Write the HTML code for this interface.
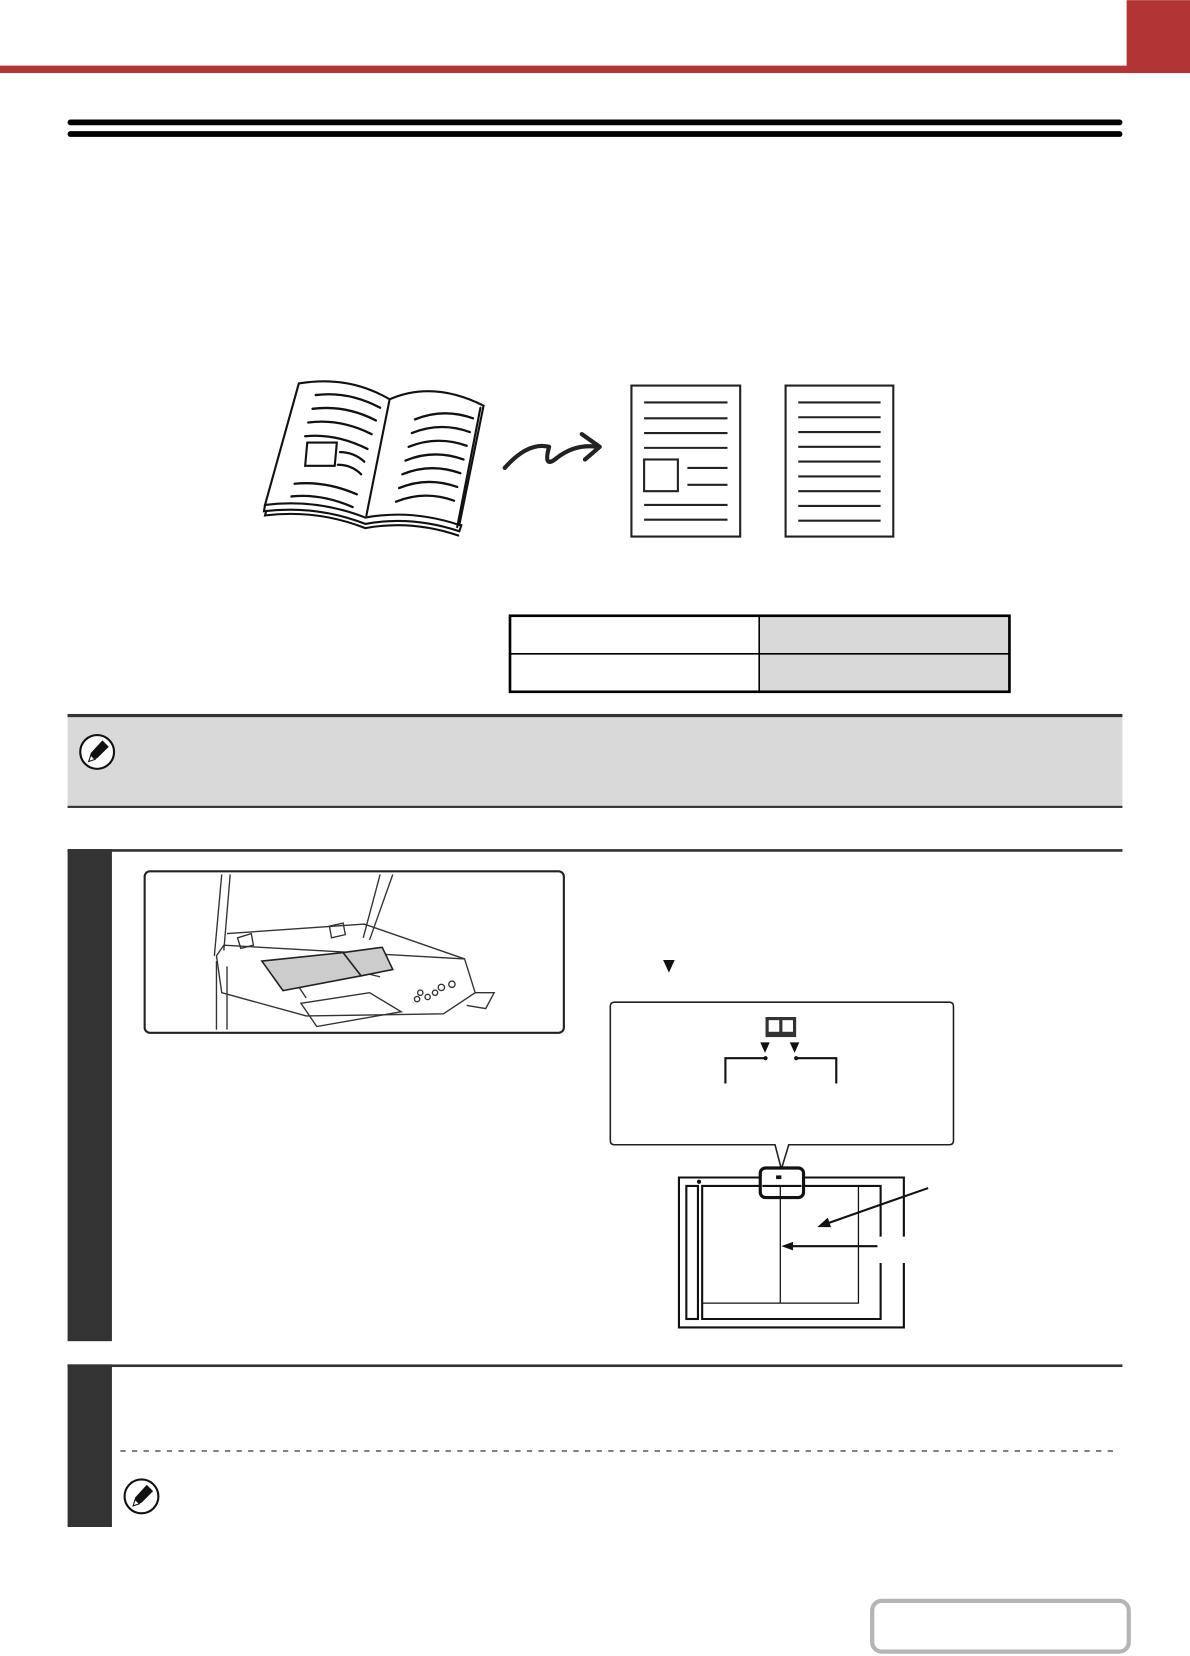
<!DOCTYPE html>
<html><head><meta charset="utf-8">
<style>
html,body{margin:0;padding:0;background:#fff;width:1190px;height:1656px;overflow:hidden}
svg{display:block}
</style></head>
<body>
<svg width="1190" height="1656" viewBox="0 0 1127 1568" xmlns="http://www.w3.org/2000/svg">
<!-- header -->
<rect x="0" y="62" width="1127" height="7" fill="#b33434"/>
<rect x="1067" y="0" width="60" height="69" fill="#b33434"/>
<rect x="64" y="113" width="999" height="5.5" rx="2.7" fill="#000"/>
<rect x="64" y="124" width="999" height="5.5" rx="2.7" fill="#000"/>

<!-- book -->
<g fill="none" stroke="#111" stroke-width="2" stroke-linecap="round">
<path d="M283 363 Q330 355 369 378 Q410 360 458 384 L435 497 Q390 482 346 490 Q300 472 251 478 Z" fill="#fff"/>
<path d="M369 378 L347 488"/>
<path d="M251 478 L250 484 Q300 478 346 496 Q390 488 435 503 L437 497"/>
<path d="M252 484 L251 488 Q300 482 346 500 Q390 492 434 507"/>
<path d="M455 386 L433 499"/>
<g stroke-width="2.2">
<path d="M299 374 Q330 370 360 386"/><path d="M296 387 Q327 383 356 398"/><path d="M292 400 Q322 396 352 411"/><path d="M289 413 Q318 410 348 425"/>
<path d="M322 428 Q335 428 345 437"/><path d="M320 440 Q333 440 342 449"/>
<path d="M279 458 Q308 455 338 468"/><path d="M276 470 Q304 467 334 480"/>
<path d="M393 397 Q420 386 448 396"/><path d="M390 410 Q417 399 445 409"/><path d="M387 423 Q414 412 442 422"/><path d="M384 436 Q411 425 439 435"/><path d="M381 449 Q408 438 436 448"/><path d="M378 462 Q405 451 433 461"/><path d="M375 475 Q402 464 430 474"/>
</g>
<path d="M291 419 L319 419 L317 441 L289 441 Z" stroke-width="2"/>
</g>
<!-- arrow -->
<g fill="none" stroke="#222" stroke-width="4" stroke-linecap="round" stroke-linejoin="round">
<path d="M478 443 Q500 418 520 423 Q514 445 528 433 Q545 420 566 423"/>
<path d="M551 411 L568 423 L554 435"/>
</g>
<!-- pages -->
<g fill="#fff" stroke="#222" stroke-width="2">
<rect x="598" y="365" width="103" height="143"/>
<rect x="744" y="365" width="102" height="143"/>
<rect x="610" y="435" width="32" height="30"/>
</g>
<g stroke="#222" stroke-width="2">
<line x1="610" y1="381" x2="689" y2="381"/><line x1="610" y1="396" x2="689" y2="396"/><line x1="610" y1="410" x2="689" y2="410"/><line x1="610" y1="424" x2="689" y2="424"/>
<line x1="651" y1="443" x2="689" y2="443"/><line x1="651" y1="459" x2="689" y2="459"/>
<line x1="610" y1="478" x2="689" y2="478"/><line x1="610" y1="492" x2="689" y2="492"/>
<line x1="756" y1="381" x2="834" y2="381"/><line x1="756" y1="395" x2="834" y2="395"/><line x1="756" y1="409" x2="834" y2="409"/><line x1="756" y1="423" x2="834" y2="423"/><line x1="756" y1="437" x2="834" y2="437"/><line x1="756" y1="451" x2="834" y2="451"/><line x1="756" y1="465" x2="834" y2="465"/><line x1="756" y1="479" x2="834" y2="479"/><line x1="756" y1="493" x2="834" y2="493"/>
</g>

<!-- table -->
<rect x="719" y="583" width="237" height="72" fill="#d9d9d9"/>
<rect x="483" y="583" width="473" height="72" fill="none" stroke="#000" stroke-width="2.5"/>
<line x1="483" y1="619" x2="956" y2="619" stroke="#000" stroke-width="1.5"/>
<line x1="719" y1="583" x2="719" y2="655" stroke="#000" stroke-width="1.5"/>

<!-- note box -->
<rect x="64" y="677" width="999" height="88" fill="#d9d9d9"/>
<rect x="64" y="676" width="999" height="3" fill="#333"/>
<rect x="64" y="763" width="999" height="2" fill="#333"/>
<g id="pen">
<circle cx="92" cy="712" r="16" fill="#fff" stroke="#111" stroke-width="2"/>
<path d="M84 721 L86 713 L97 701 L103 707 L92 718 Z" fill="#111"/>
<path d="M84 721 L86 715 L90 719 Z" fill="#fff" stroke="#111" stroke-width="1"/>
</g>

<!-- step 1 -->
<rect x="64" y="804" width="999" height="2.5" fill="#333"/>
<rect x="64" y="804" width="42" height="466" fill="#333"/>
<rect x="137" y="825" width="397" height="153" rx="5" fill="#fff" stroke="#222" stroke-width="2"/>
<g fill="none" stroke="#333" stroke-width="1.3">
<path d="M210 828 L203 905 M218 828 L212 900 M360 828 L344 888 M372 828 L350 890"/>
<path d="M215 884 L345 875 L440 908"/>
<path d="M205 905 L212 895 L440 908 L450 940 L420 960 L290 962 L210 940 Z"/>
<path d="M205 910 L205 975 M215 915 L215 975"/>
<path d="M285 950 L350 940 L380 958 L300 972 Z"/>
<path d="M270 915 L290 945 M340 920 L360 925"/>
<path d="M450 940 L468 940 L460 955 L442 952"/>
<circle cx="398" cy="940" r="2.5"/><circle cx="405" cy="944" r="2.5"/><circle cx="395" cy="946" r="2.5"/><circle cx="412" cy="940" r="2.5"/><circle cx="418" cy="935" r="3"/><circle cx="428" cy="932" r="3"/>
<path d="M225 888 L238 884 L240 895 L228 898 Z M312 877 L325 874 L327 885 L314 888 Z"/>
</g>
<path d="M248 910 L325 902 L342 924 L268 938 Z" fill="#ccc" stroke="#222" stroke-width="1.5"/>
<path d="M325 902 L362 897 L372 918 L342 924 Z" fill="#ccc" stroke="#222" stroke-width="1.5"/>

<path d="M628 909 L639 909 L633.5 921 Z" fill="#111"/>

<!-- callout -->
<path d="M582 949 L899 949 Q903 949 903 953 L903 1080 Q903 1084 899 1084 L747 1084 L740 1107 L734 1084 L582 1084 Q578 1084 578 1080 L578 953 Q578 949 582 949 Z" fill="#fff" stroke="#222" stroke-width="1.5"/>
<rect x="725" y="963" width="29" height="19" fill="#333"/>
<rect x="728" y="966" width="10" height="11" fill="#fff"/><rect x="741" y="966" width="10" height="11" fill="#fff"/>
<path d="M720 987 L729 987 L724.5 997 Z M748 987 L757 987 L752.5 997 Z" fill="#111"/>
<g fill="none" stroke="#111" stroke-width="2"><path d="M687 1026 L687 1002 L725 1002"/><path d="M754 1002 L792 1002 L792 1026"/></g>
<circle cx="725" cy="1002" r="2" fill="#111"/><circle cx="754" cy="1002" r="2" fill="#111"/>

<!-- glass -->
<g fill="none" stroke="#111" stroke-width="2">
<path d="M856 1171 L856 1115 L643 1115 L643 1257 L856 1257 L856 1196"/>
<rect x="650" y="1123" width="11" height="126"/>
<path d="M834 1171 L834 1123 L665 1123 L665 1249 L834 1249 L834 1196"/>
</g>
<g fill="none" stroke="#111" stroke-width="1.2">
<path d="M665 1234 L813 1234 L813 1123"/>
<line x1="739" y1="1123" x2="739" y2="1234"/>
</g>
<circle cx="662" cy="1119" r="2" fill="#111"/>
<rect x="720" y="1106" width="41" height="28" rx="5" fill="#fff" stroke="#111" stroke-width="3"/>
<line x1="722" y1="1123" x2="759" y2="1123" stroke="#111" stroke-width="2"/>
<line x1="739" y1="1123" x2="739" y2="1133" stroke="#111" stroke-width="1.2"/>
<rect x="735" y="1113" width="5" height="3.5" fill="#111"/>
<g stroke="#111" stroke-width="2"><line x1="879" y1="1125" x2="782" y2="1159"/><line x1="831" y1="1180" x2="748" y2="1180"/></g>
<path d="M774 1162 L784 1153 L787 1162 Z" fill="#111"/>
<path d="M740 1180 L751 1176 L751 1184 Z" fill="#111"/>

<!-- step 2 -->
<rect x="64" y="1292" width="999" height="2.5" fill="#333"/>
<rect x="64" y="1292" width="42" height="154" fill="#333"/>
<line x1="114" y1="1374" x2="1060" y2="1374" stroke="#333" stroke-width="1.2" stroke-dasharray="5,6"/>
<use href="#pen" transform="translate(42 705)"/>

<!-- bottom button -->
<rect x="826" y="1516" width="243" height="48" rx="9" fill="#fff" stroke="#b5b5b5" stroke-width="4"/>
</svg>
</body></html>
